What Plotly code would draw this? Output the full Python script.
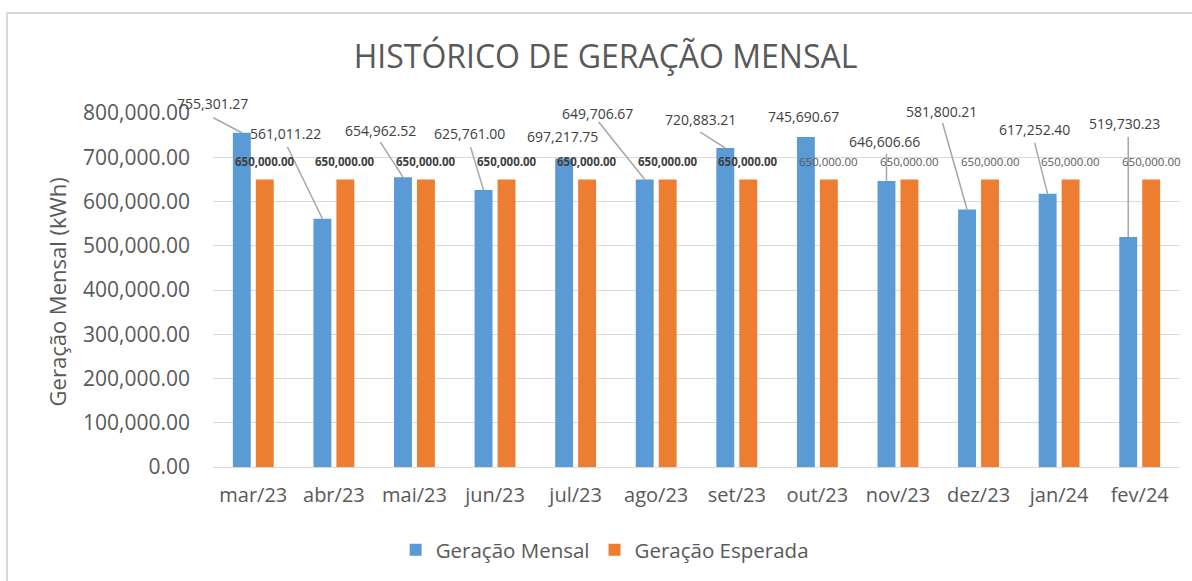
import plotly.graph_objects as go

months = ["mar/23", "abr/23", "mai/23", "jun/23", "jul/23", "ago/23",
          "set/23", "out/23", "nov/23", "dez/23", "jan/24", "fev/24"]
geracao_mensal = [755301.27, 561011.22, 654962.52, 625761.00, 697217.75, 649706.67,
                  720883.21, 745690.67, 646606.66, 581800.21, 617252.40, 519730.23]
geracao_esperada = [650000.00] * 12

# label placement (screen px relative to bar top): text offset, leader-line start
label_text_off = [(-29.5, -29), (-37, -85), (-22.6, -47), (-14, -57), (-2, -21.5), (-47, -66.5),
                  (-25, -29), (-2, -21), (-2, -39), (-25.5, -97.6), (-13, -64), (-3.6, -114)]
label_line_start = [(-28.5, -15), (-35, -72), (-22.6, -35), (-13, -43), None, (-46, -57.5),
                    (-25, -16), None, (0, -27), (-24.5, -86.6), (-13, -51), (0, -100)]
esperada_bold = [True] * 7 + [False] * 5

BLUE = "#5B9BD5"
ORANGE = "#ED7D31"
FONT = "Open Sans"
GREY = "#595959"
DARK = "#404040"

BARGAP = 0.43
slot = (1 - BARGAP) / 2
blue_off = -slot / 2
orange_off = slot / 2

fig = go.Figure()
fig.add_trace(go.Bar(x=months, y=geracao_mensal, name="Geração Mensal",
                     marker=dict(color=BLUE, line=dict(width=0))))
fig.add_trace(go.Bar(x=months, y=geracao_esperada, name="Geração Esperada",
                     marker=dict(color=ORANGE, line=dict(width=0))))

annotations = []
shapes = []
for i, v in enumerate(geracao_mensal):
    tx, ty = label_text_off[i]
    annotations.append(dict(x=i + blue_off, y=v, xref="x", yref="y",
                            text=f"{v:,.2f}", showarrow=False,
                            xshift=tx, yshift=-ty,
                            font=dict(family=FONT, size=14, color=DARK)))
    ls = label_line_start[i]
    if ls is not None:
        shapes.append(dict(type="line", xref="x", yref="y",
                           xsizemode="pixel", ysizemode="pixel",
                           xanchor=i + blue_off, yanchor=v,
                           x0=ls[0], y0=-ls[1], x1=0, y1=0,
                           line=dict(color="#A6A6A6", width=1.5)))
for i, v in enumerate(geracao_esperada):
    annotations.append(dict(x=i + orange_off, y=v, xref="x", yref="y",
                            text=f"{v:,.2f}", showarrow=False, yshift=18,
                            font=dict(family=FONT, size=11.5, color=DARK if esperada_bold[i] else GREY,
                                      weight="bold" if esperada_bold[i] else "normal")))

# y-axis title
annotations.append(dict(x=-0.161, y=0.494, xref="paper", yref="paper",
                        text="Geração Mensal (kWh)", textangle=-90, showarrow=False,
                        xanchor="center", yanchor="middle",
                        font=dict(family=FONT, size=22, color=GREY)))

# chart-area border (left and top)
shapes.append(dict(type="path", xref="paper", yref="paper",
                   path="M -0.213 -0.4 L -0.213 1.2825 L 1.1 1.2825",
                   line=dict(color="#D9D9D9", width=2)))

fig.update_layout(
    width=1192, height=581,
    margin=dict(l=213, r=12, t=113, b=114, autoexpand=False),
    paper_bgcolor="white", plot_bgcolor="white",
    barmode="group", bargap=BARGAP, bargroupgap=0.22,
    title=dict(text="HISTÓRICO DE GERAÇÃO MENSAL", x=0.508, xanchor="center",
               y=1 - 57 / 581, yanchor="middle",
               font=dict(family=FONT, size=32, color=GREY)),
    font=dict(family=FONT, color=GREY),
    showlegend=True,
    legend=dict(orientation="h", x=0.405, xanchor="center", y=-0.234, yanchor="middle",
                font=dict(family=FONT, size=20.5, color=GREY), traceorder="normal"),
    annotations=annotations,
    shapes=shapes,
)
fig.update_xaxes(range=[-0.5, len(months) - 0.5], autorange=False,
                 showgrid=False, showline=False, ticks="", ticklabelstandoff=14, automargin=False,
                 tickfont=dict(family=FONT, size=20, color=GREY), fixedrange=True)
fig.update_yaxes(range=[0, 800000], autorange=False, dtick=100000, tickformat=",.2f", automargin=False,
                 showgrid=True, gridcolor="#D9D9D9", gridwidth=1,
                 zeroline=True, zerolinecolor="#D9D9D9", zerolinewidth=1,
                 showline=False, ticks="", ticklabelstandoff=22,
                 tickfont=dict(family=FONT, size=21, color=GREY), fixedrange=True)

fig.write_html("out.html", config={"displayModeBar": False},
               post_script="document.body.style.margin='0';")
